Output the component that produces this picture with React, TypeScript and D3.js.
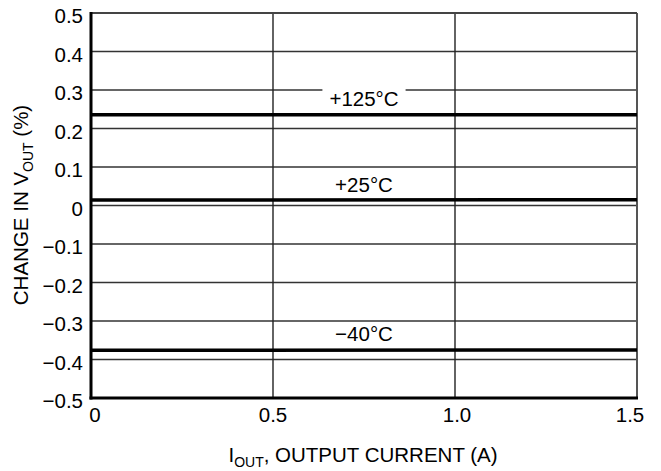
import React from "react";
import * as d3 from "d3";

const xTicks = [0, 0.5, 1.0, 1.5];
const xTickLabels = ["0", "0.5", "1.0", "1.5"];
const yTicks = [0.5, 0.4, 0.3, 0.2, 0.1, 0, -0.1, -0.2, -0.3, -0.4, -0.5];
const yTickLabels = ["0.5", "0.4", "0.3", "0.2", "0.1", "0", "\u22120.1", "\u22120.2", "\u22120.3", "\u22120.4", "\u22120.5"];

const currents = [0, 1.5];
const seriesNames = ["+125°C", "+25°C", "\u221240°C"];
const seriesValues = [
  [0.236, 0.236],
  [0.014, 0.015],
  [-0.376, -0.375],
];
const labelX = [0.75, 0.75, 0.75];

const W = 661, H = 471;
const M = { left: 91, right: 637, top: 13, bottom: 398 };
const FONT = "Arial, 'Liberation Sans', Helvetica, sans-serif";
const FS = 20.5;

function measure(text: string, size: number): number {
  try {
    const c = document.createElement("canvas").getContext("2d");
    if (c) {
      c.font = `${size}px ${FONT}`;
      return c.measureText(text).width;
    }
  } catch (e) {}
  return text.length * size * 0.55;
}

export default function App() {
  const x = d3.scaleLinear().domain([0, 1.5]).range([M.left, M.right]);
  const y = d3.scaleLinear().domain([-0.5, 0.5]).range([M.bottom, M.top]);
  const line = d3.line<[number, number]>().x(d => x(d[0])).y(d => y(d[1]));
  const labelOffsets = [-9, -8, -9];
  const xLabelShift = [4, 0, 2, -7];

  return (
    <svg width={W} height={H} style={{ position: "absolute", left: 0, top: 0, background: "#fff" }} fontFamily={FONT}>
      {/* horizontal gridlines */}
      {yTicks.map((t, i) => (
        <line key={"gy" + i} x1={M.left} x2={M.right} y1={y(t)} y2={y(t)} stroke="#333" strokeWidth={1.4} />
      ))}
      {/* vertical gridlines */}
      {xTicks.slice(1).map((t, i) => (
        <line key={"gx" + i} x1={x(t)} x2={x(t)} y1={M.top} y2={M.bottom} stroke={i === xTicks.length - 2 ? "#555" : "#222"} strokeWidth={i === xTicks.length - 2 ? 2 : 1.4} />
      ))}
      {/* top border */}
      <line x1={M.left} x2={M.right} y1={M.top} y2={M.top} stroke="#444" strokeWidth={2} />
      {/* labels with white backgrounds */}
      {seriesNames.map((name, i) => {
        const cx = x(labelX[i]);
        const cy = y(seriesValues[i][0]) + labelOffsets[i];
        const w = measure(name, FS) + 14;
        return (
          <g key={"lab" + i}>
            <rect x={cx - w / 2} y={cy - 18} width={w} height={20} fill="#fff" />
            <text x={cx} y={cy} textAnchor="middle" fontSize={FS} fill="#000">{name}</text>
          </g>
        );
      })}
      {/* data lines */}
      {seriesValues.map((vals, i) => (
        <path key={"s" + i} d={line(currents.map((c, j) => [c, vals[j]]) as [number, number][]) || ""} fill="none" stroke="#000" strokeWidth={3.5} />
      ))}
      {/* axes */}
      <line x1={M.left} x2={M.left} y1={M.top - 1} y2={M.bottom + 1.5} stroke="#000" strokeWidth={3} />
      <line x1={M.left - 1.5} x2={M.right + 1} y1={M.bottom} y2={M.bottom} stroke="#000" strokeWidth={3} />
      {/* y tick labels */}
      {yTicks.map((t, i) => (
        <text key={"yl" + i} x={M.left - 8} y={y(t) + 10} textAnchor="end" fontSize={FS} fill="#000">{yTickLabels[i]}</text>
      ))}
      {/* x tick labels */}
      {xTicks.map((t, i) => (
        <text key={"xl" + i} x={x(t) + xLabelShift[i]} y={M.bottom + 24} textAnchor="middle" fontSize={FS} fill="#000">{xTickLabels[i]}</text>
      ))}
      {/* x axis title */}
      <text x={363} y={462} textAnchor="middle" fontSize={FS} fill="#000">
        I<tspan fontSize={14} dy={5}>OUT</tspan><tspan dy={-5}>, OUTPUT CURRENT (A)</tspan>
      </text>
      {/* y axis title */}
      <text transform={`translate(28, 205) rotate(-90)`} textAnchor="middle" fontSize={FS} fill="#000">
        CHANGE IN V<tspan fontSize={14} dy={5}>OUT</tspan><tspan dy={-5}> (%)</tspan>
      </text>
    </svg>
  );
}
